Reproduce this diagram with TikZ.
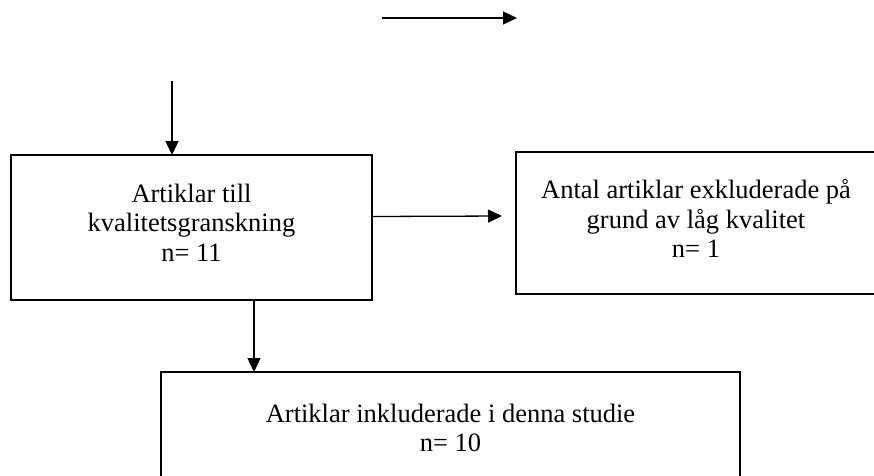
\documentclass[tikz,border=0pt]{standalone}
\usepackage{fontspec}
\setmainfont{Liberation Serif}
\usepackage{tikz}
\usetikzlibrary{positioning, arrows.meta, calc}
\tikzset{
  box/.style={draw, line width=1.4pt, inner sep=0pt, outer sep=0pt,
              minimum width=#1},
  txt/.style={align=center, inner sep=0pt, font=\fontsize{26.5}{29.5}\selectfont},
  arr/.style={-{Triangle[length=14pt, width=13pt]}, line width=1.3pt},
}

\begin{document}
\begin{tikzpicture}[x=1pt, y=-1pt]
  \clip (0, 0) rectangle (874, 475);
  % boxes
  \node[box=361pt, minimum height=145pt] (quality) at (191.5, 227.5) {};
  \node[box=360pt, minimum height=142pt] (excluded) at (696, 223) {};
  \node[box=579pt, minimum height=144pt] (included) at (450.5, 444) {};
  % texts
  \node[txt] (qualitytxt) at (191.5, 222.5) {Artiklar till\\ kvalitetsgranskning\\ n= 11};
  \node[txt] (excludedtxt) at (696, 218.5) {Antal artiklar exkluderade på\\ grund av låg kvalitet\\ n= 1};
  \node[txt] (includedtxt) at (450.5, 428) {Artiklar inkluderade i denna studie\\ n= 10};
  % free ends
  \coordinate (topstart) at (382, 18);
  \coordinate (topend) at (517, 18);
  \coordinate (feed) at (172, 81);
  \coordinate (split) at (254, 0);
  % connectors
  \draw[arr] (topstart) -- (topend);
  \draw[arr] (feed) -- (feed |- quality.north);
  \draw[arr] ([yshift=11pt]quality.east) -- ([xshift=-14pt, yshift=7pt]excluded.west);
  \draw[arr] (split |- quality.south) -- (split |- included.north);
\end{tikzpicture}
\end{document}
